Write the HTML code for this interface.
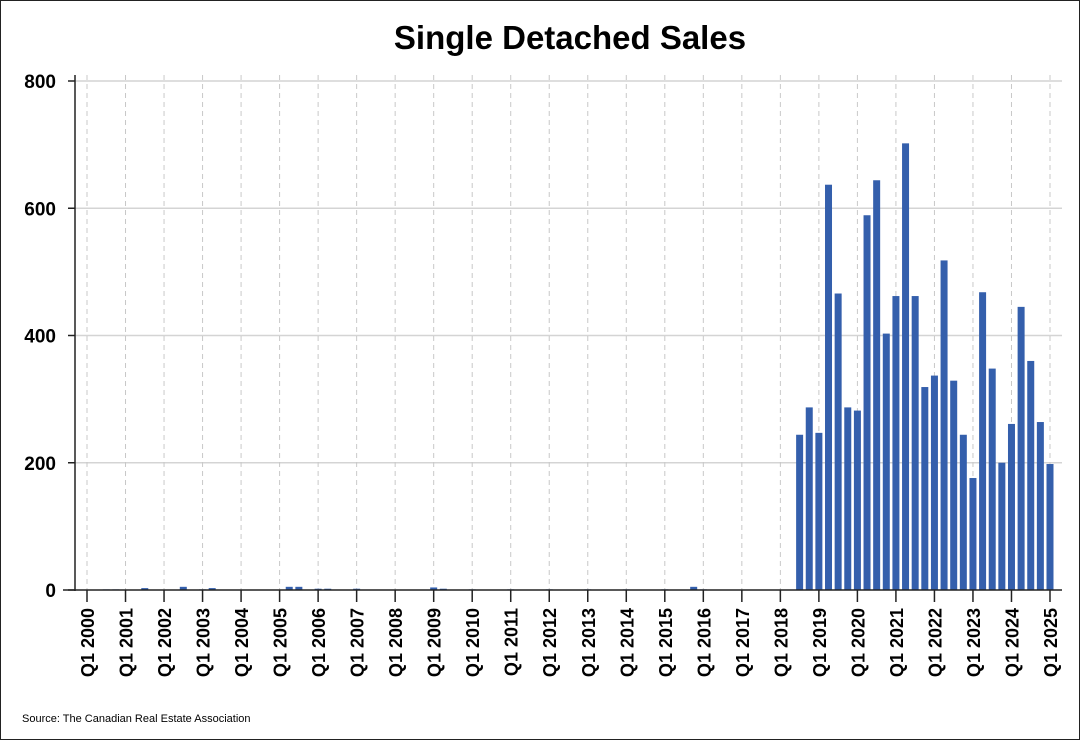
<!DOCTYPE html>
<html><head><meta charset="utf-8"><style>
body{margin:0;background:#fff}
svg{display:block;font-family:"Liberation Sans",Arial,sans-serif}
</style></head><body>
<svg id="chart" width="1080" height="740">
<rect x="0.5" y="0.5" width="1079" height="739" fill="#fff" stroke="#222"/>
<text x="570" y="49" text-anchor="middle" font-size="33" font-weight="bold">Single Detached Sales</text>
<text x="22" y="722" font-size="11">Source: The Canadian Real Estate Association</text>
<g id="grid"></g><g id="bars"></g><g id="axes"></g>
</svg>
<script>
const startYear = 2000;
const quarterCount = 101;
const smallQuarterIdx = [2,3,6,10,12,13,21,22,24,25,28,36,37,40,44,48,52,56,60,63,64];
const smallValues = [1,1,3,5,1,3,5,5,2,2,2,4,2,1,1,1,1,1,1,5,1];
const recentStartIdx = 74;
const recentValues = [244,287,247,637,466,287,282,589,644,403,462,702,462,319,337,518,329,244,176,468,348,200,261,445,360,264,198];
const yTicks = [0,200,400,600,800];

const NS="http://www.w3.org/2000/svg";
const X0=87, STEP=(1050-87)/100, Y0=590, YK=(590-81)/800;
const x=i=>X0+i*STEP, y=v=>Y0-v*YK;
function mk(t,a,p){const e=document.createElementNS(NS,t);for(const k in a)e.setAttribute(k,a[k]);p.appendChild(e);return e;}
const grid=document.getElementById('grid'),bars=document.getElementById('bars'),axes=document.getElementById('axes');
yTicks.forEach(v=>{
  if(v>0){const l=mk('line',{x1:75,x2:1062,y1:y(v),y2:y(v),stroke:'#d4d4d4','stroke-width':1.5},grid);
  
  }
  const tk=mk('line',{x1:68,x2:75,y1:y(v),y2:y(v),stroke:'#222','stroke-width':1.5},axes);
  
  
  const t=mk('text',{x:56,y:y(v)+7,'text-anchor':'end','font-size':19,'font-weight':'bold'},axes);
  t.textContent=v;
  
  
});
for(let i=0;i<quarterCount;i+=4){
  const g=mk('line',{x1:x(i),x2:x(i),y1:75,y2:590,stroke:'#c8c8c8','stroke-dasharray':'5,4'},grid);
  
  
  const tk=mk('line',{x1:x(i),x2:x(i),y1:590,y2:602,stroke:'#222','stroke-width':1.5},axes);
  
  
  const t=mk('text',{transform:`translate(${x(i)+7},608) rotate(-90)`,'text-anchor':'end','font-size':18,'font-weight':'bold'},axes);
  t.textContent='Q1 '+(startYear+i/4);
  
  
}
function bar(i,v){
  const r=mk('rect',{x:x(i)-3.5,y:y(v),width:7,height:v*YK,fill:'#345fac'},bars);
  
  
}
smallQuarterIdx.forEach((q,k)=>bar(q,smallValues[k]));
recentValues.forEach((v,k)=>bar(recentStartIdx+k,v));
const ya=mk('line',{x1:75,x2:75,y1:75,y2:591,stroke:'#222','stroke-width':1.5},axes);


const xa=mk('line',{x1:63,x2:1062,y1:590,y2:590,stroke:'#222','stroke-width':1.5},axes);


</script>
</body></html>
